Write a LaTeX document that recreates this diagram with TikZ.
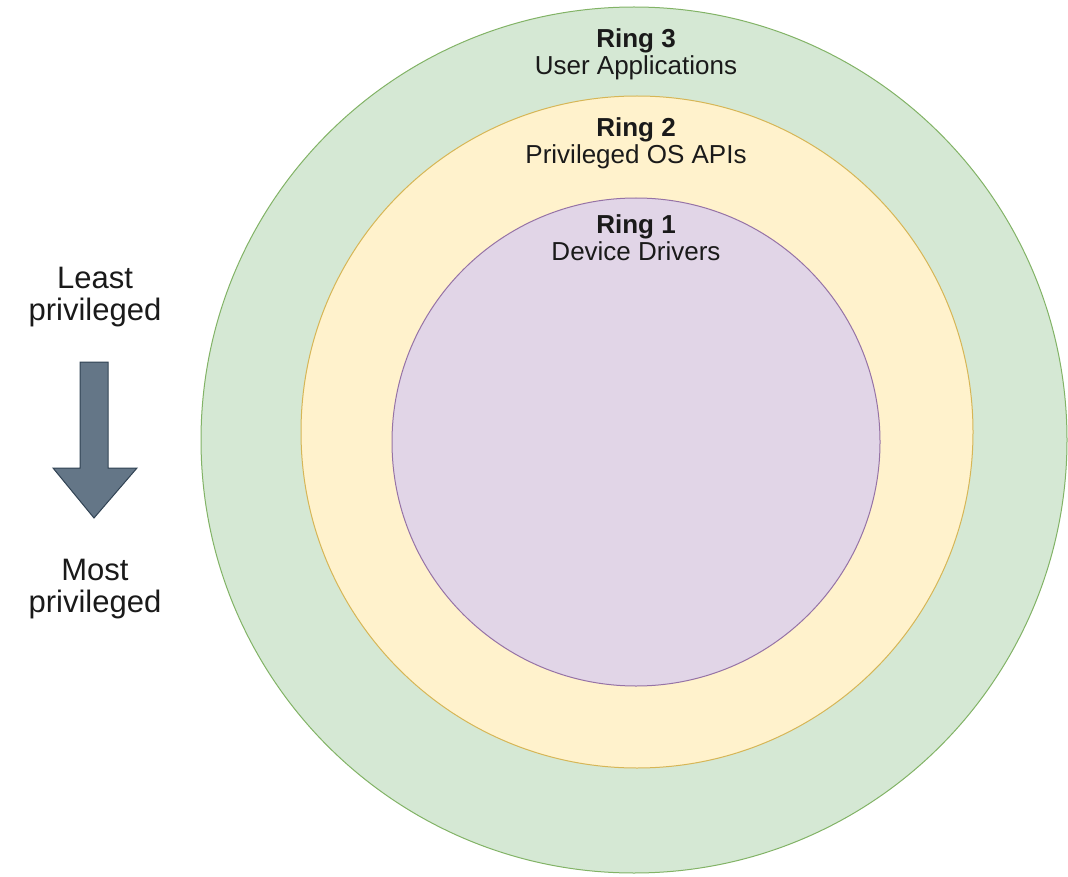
\documentclass[tikz,border=0pt]{standalone}
\usepackage{fontspec}
\setmainfont{Liberation Sans}
\usepackage{tikz}
\usetikzlibrary{calc, positioning}

\definecolor{ringgreen}{HTML}{D5E8D4}
\definecolor{ringgreenline}{HTML}{82B366}
\definecolor{ringyellow}{HTML}{FFF2CC}
\definecolor{ringyellowline}{HTML}{D6B656}
\definecolor{ringpurple}{HTML}{E1D5E7}
\definecolor{ringpurpleline}{HTML}{9673A6}
\definecolor{arrowfill}{HTML}{647687}
\definecolor{arrowline}{HTML}{314354}
\definecolor{labeltext}{HTML}{1A1A1A}

\begin{document}
\begin{tikzpicture}[x=1pt, y=-1pt,
		ring/.style={circle, draw, line width=1pt, inner sep=0pt},
		ringlabel/.style={align=center, anchor=north, inner sep=0pt, text=labeltext, font=\fontsize{26}{27}\selectfont},
		sidelabel/.style={align=center, anchor=north, inner sep=0pt, text=labeltext, font=\fontsize{31}{32}\selectfont}]
		\def\rthree{433};
		\def\rtwo{336};
		\def\rone{244};
		
		\useasboundingbox (0,0) rectangle (1068,877);
		
		% the three rings
		\node [ring, fill = ringgreen, draw = ringgreenline, minimum size = {2*\rthree pt}] (ring3) at (634,440) {};
		\node [ring, fill = ringyellow, draw = ringyellowline, minimum size = {2*\rtwo pt}] (ring2) at (637,432) {};
		\node [ring, fill = ringpurple, draw = ringpurpleline, minimum size = {2*\rone pt}] (ring1) at (636,442) {};
		
		\begin{scope}[ringlabel]
			\node (label3) at (636,28) {\textbf{Ring 3}\\User Applications};
			\node (label2) at (636,117) {\textbf{Ring 2}\\Privileged OS APIs};
			\node (label1) at (636,214) {\textbf{Ring 1}\\Device Drivers};
		\end{scope}
		
		% privilege arrow
		\node [sidelabel] (least) at (95,267) {Least\\privileged};
		\node [sidelabel] (most) at (95,559) {Most\\privileged};
		
		\coordinate (tip) at (94,518);
		\filldraw [fill = arrowfill, draw = arrowline, line width = 1pt, line join = miter]
			(80,362) -- (108,362) -- (108,468) -- (137,468) -- (tip) -- (53,468) -- (80,468) -- cycle;
	\end{tikzpicture}
\end{document}
